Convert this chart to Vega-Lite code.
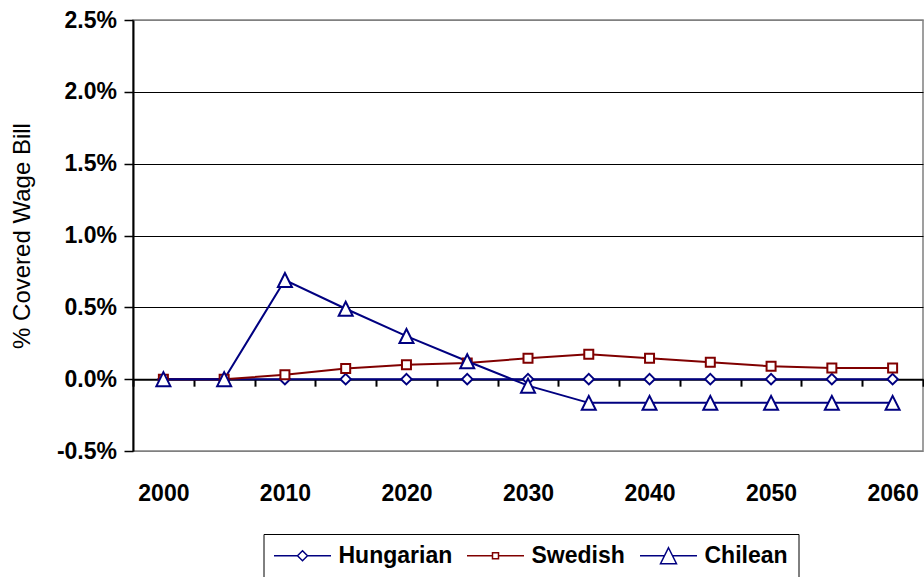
{
  "$schema": "https://vega.github.io/schema/vega-lite/v6.json",
  "width": 790,
  "height": 431,
  "autosize": {"type": "none"},
  "padding": {"left": 133, "top": 20, "right": 1, "bottom": 126},
  "background": "white",
  "config": {
    "font": "Liberation Sans",
    "view": {"stroke": "#808080", "strokeWidth": 1.5}
  },
  "data": {
    "values": [
      {"year": 2000, "series": "Hungarian", "value": 0},
      {"year": 2005, "series": "Hungarian", "value": 0},
      {"year": 2010, "series": "Hungarian", "value": 0},
      {"year": 2015, "series": "Hungarian", "value": 0},
      {"year": 2020, "series": "Hungarian", "value": 0},
      {"year": 2025, "series": "Hungarian", "value": 0},
      {"year": 2030, "series": "Hungarian", "value": 0},
      {"year": 2035, "series": "Hungarian", "value": 0},
      {"year": 2040, "series": "Hungarian", "value": 0},
      {"year": 2045, "series": "Hungarian", "value": 0},
      {"year": 2050, "series": "Hungarian", "value": 0},
      {"year": 2055, "series": "Hungarian", "value": 0},
      {"year": 2060, "series": "Hungarian", "value": 0},
      {"year": 2000, "series": "Swedish", "value": 0},
      {"year": 2005, "series": "Swedish", "value": 0},
      {"year": 2010, "series": "Swedish", "value": 0.0003},
      {"year": 2015, "series": "Swedish", "value": 0.00075},
      {"year": 2020, "series": "Swedish", "value": 0.001},
      {"year": 2025, "series": "Swedish", "value": 0.00113},
      {"year": 2030, "series": "Swedish", "value": 0.00145},
      {"year": 2035, "series": "Swedish", "value": 0.00173},
      {"year": 2040, "series": "Swedish", "value": 0.00145},
      {"year": 2045, "series": "Swedish", "value": 0.00118},
      {"year": 2050, "series": "Swedish", "value": 0.0009},
      {"year": 2055, "series": "Swedish", "value": 0.00077},
      {"year": 2060, "series": "Swedish", "value": 0.00077},
      {"year": 2000, "series": "Chilean", "value": 0},
      {"year": 2005, "series": "Chilean", "value": 0},
      {"year": 2010, "series": "Chilean", "value": 0.0069},
      {"year": 2015, "series": "Chilean", "value": 0.0049},
      {"year": 2020, "series": "Chilean", "value": 0.003},
      {"year": 2025, "series": "Chilean", "value": 0.00125},
      {"year": 2030, "series": "Chilean", "value": -0.00045},
      {"year": 2035, "series": "Chilean", "value": -0.00165},
      {"year": 2040, "series": "Chilean", "value": -0.00165},
      {"year": 2045, "series": "Chilean", "value": -0.00165},
      {"year": 2050, "series": "Chilean", "value": -0.00165},
      {"year": 2055, "series": "Chilean", "value": -0.00165},
      {"year": 2060, "series": "Chilean", "value": -0.00165}
    ]
  },
  "encoding": {
    "x": {
      "field": "year",
      "type": "ordinal",
      "scale": {"type": "band", "paddingInner": 0, "paddingOuter": 0},
      "axis": {
        "orient": "bottom",
        "offset": -71.83,
        "title": null,
        "domainColor": "black",
        "domainWidth": 2,
        "tickColor": "black",
        "tickWidth": 2,
        "tickSize": 7,
        "tickBand": "extent",
        "labelExpr": "datum.value % 10 === 0 ? datum.label : ''",
        "labelPadding": 96,
        "labelFont": "Liberation Sans",
        "labelFontSize": 23,
        "labelFontWeight": "bold",
        "labelColor": "black",
        "labelAngle": 0,
        "labelOverlap": false
      }
    },
    "y": {
      "field": "value",
      "type": "quantitative",
      "scale": {"domain": [-0.005, 0.025], "nice": false, "zero": false},
      "axis": {
        "values": [-0.005, 0, 0.005, 0.01, 0.015, 0.02, 0.025],
        "labelExpr": "replace(format(datum.value, '.1%'), '−', '-')",
        "title": "% Covered Wage Bill",
        "titleFont": "Liberation Sans",
        "titleFontSize": 24,
        "titleFontWeight": "normal",
        "titleColor": "black",
        "titlePadding": 22,
        "grid": true,
        "gridColor": {"condition": {"test": "datum.value > 0.024 || datum.value < -0.004", "value": "#808080"}, "value": "black"},
        "gridWidth": 1,
        "domainColor": "black",
        "domainWidth": 2,
        "tickColor": "black",
        "tickSize": 9,
        "tickWidth": 1.5,
        "labelPadding": 7.5,
        "labelFont": "Liberation Sans",
        "labelFontSize": 23,
        "labelFontWeight": "bold",
        "labelColor": "black"
      }
    },
    "stroke": {
      "field": "series",
      "type": "nominal",
      "scale": {"domain": ["Hungarian", "Swedish", "Chilean"], "range": ["#000080", "#800000", "#000080"]},
      "legend": {
        "orient": "none",
        "legendX": 130.5,
        "legendY": 514,
        "direction": "horizontal",
        "title": null,
        "strokeColor": "black",
        "padding": 10,
        "labelFont": "Liberation Sans",
        "labelFontSize": 23,
        "labelFontWeight": "bold",
        "labelColor": "black",
        "labelOffset": 42,
        "labelLimit": 300,
        "columnPadding": 11,
        "symbolSize": 400,
        "symbolFillColor": "white",
        "symbolOpacity": 1
      }
    }
  },
  "layer": [
    {
      "mark": {"type": "line", "strokeWidth": 2}
    },
    {
      "mark": {"type": "point", "filled": true, "fill": "white", "strokeWidth": 2, "opacity": 0},
      "encoding": {
        "shape": {
          "field": "series",
          "type": "nominal",
          "scale": {"domain": ["Hungarian", "Swedish", "Chilean"], "range": ["M-1.1,0H1.25M2.25,0H4.6M1.75,-0.5L2.25,0L1.75,0.5L1.25,0Z", "M-1.1,0H1.45M2.05,0H4.6M1.45,-0.3H2.05V0.3H1.45Z", "M-1.1,0H1.35M2.15,0H4.6M1.75,-0.8L2.55,0.8H0.95Z"]},
          "legend": null
        }
      }
    },
    {
      "transform": [{"filter": "datum.series === 'Hungarian'"}],
      "mark": {"type": "point", "filled": true, "fill": "white", "strokeWidth": 2, "opacity": 1, "size": 100, "shape": "M0,-1.05L1.05,0L0,1.05L-1.05,0Z"},
      "encoding": {"stroke": {"value": "#000080"}}
    },
    {
      "transform": [{"filter": "datum.series === 'Swedish'"}],
      "mark": {"type": "point", "filled": true, "fill": "white", "strokeWidth": 2, "opacity": 1, "size": 100, "shape": "M-0.9,-0.9H0.9V0.9H-0.9Z"},
      "encoding": {"stroke": {"value": "#800000"}}
    },
    {
      "transform": [{"filter": "datum.series === 'Chilean'"}],
      "mark": {"type": "point", "filled": true, "fill": "white", "strokeWidth": 2, "opacity": 1, "size": 100, "shape": "M0,-1.4L1.4,1.4L-1.4,1.4Z"},
      "encoding": {"stroke": {"value": "#000080"}}
    }
  ]
}
